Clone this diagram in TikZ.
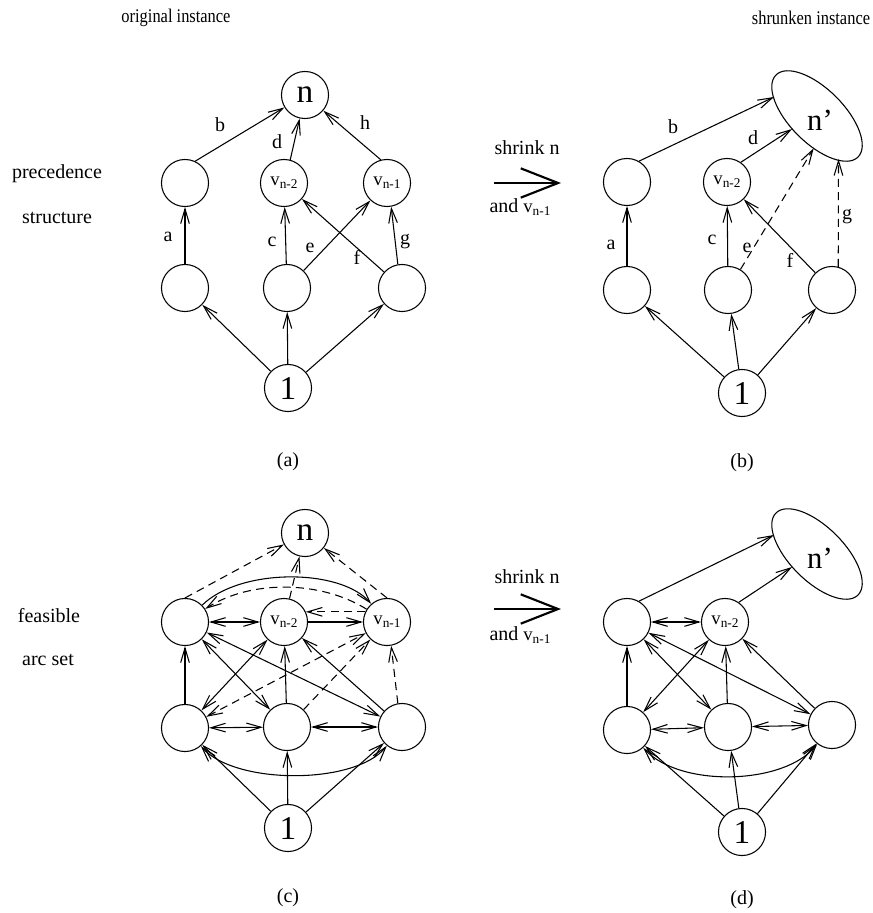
\documentclass[tikz,border=0pt]{standalone}
\usepackage{fontspec}
\setmainfont{Liberation Serif}
\newfontfamily\condfont{Liberation Serif}[FakeStretch=0.85]
\usetikzlibrary{arrows.meta,shapes.geometric}
\newcommand\vlab[1]{{\fontsize{14}{14}\selectfont v}\raisebox{-2.5pt}{\fontsize{10}{10}\selectfont #1}}
\begin{document}
\begin{tikzpicture}[x=0.75pt,y=-0.75pt,
  vert/.style={circle,draw,line width=0.8pt,minimum size=35.3pt,inner sep=0pt,font=\fontsize{25}{25}\selectfont},
  ell/.style={ellipse,draw,line width=0.8pt,minimum width=87pt,minimum height=40.5pt,inner sep=0pt,rotate=-45},
  arr/.style={line width=0.8pt,-{Straight Barb[length=11pt,width=6.5pt]}},
  dbl/.style={line width=0.8pt,{Straight Barb[length=11pt,width=6.5pt]}-{Straight Barb[length=11pt,width=6.5pt]}},
  dsh/.style={dash pattern=on 6pt off 4pt},
  lbl/.style={font=\fontsize{15}{15}\selectfont,inner sep=0pt},
  captxt/.style={font=\fontsize{15}{15}\selectfont,inner sep=0pt},
  txt/.style={font=\fontsize{15}{15}\selectfont,inner sep=0pt},
  ttl/.style={font=\condfont\fontsize{14.5}{14.5}\selectfont,inner sep=0pt},
  big/.style={line width=2.2pt,-{Straight Barb[length=28pt,width=22pt,line width=1.6pt]}}]
\useasboundingbox (0,0) rectangle (872,913);

% titles and side labels
\node[ttl] (t1) at (176,18) {original instance};
\node[ttl] (t2) at (811,18) {shrunken instance};
\node[txt] (s1) at (57,174) {precedence};
\node[txt] (s2) at (57,218) {structure};
\node[txt] (s3) at (49,616) {feasible};
\node[txt] (s4) at (48,660) {arc set};
\node[captxt] (capa) at (288,462) {(a)};
\node[captxt] (capb) at (742,463) {(b)};
\node[captxt] (capc) at (288,898) {(c)};
\node[captxt] (capd) at (742,900) {(d)};

% shrink arrows
\node[txt] (sh1) at (527,148) {shrink n};
\node[txt] (an1) at (520,207) {and \vlab{n-1}};
\coordinate (s1a) at (494,183);
\coordinate (s1b) at (561,183);
\draw[big] (s1a) -- (s1b);
\node[txt] (sh2) at (527,577) {shrink n};
\node[txt] (an2) at (520,635) {and \vlab{n-1}};
\coordinate (s2a) at (494,609);
\coordinate (s2b) at (561,609);
\draw[big] (s2a) -- (s2b);

% ---------- (a) ----------
\node[vert] (an) at (305,95) {n};
\node[vert] (aL2) at (185,183) {};
\node[vert] (aV2) at (284,183) {\vlab{n-2}};
\node[vert] (aV1) at (387,183) {\vlab{n-1}};
\node[vert] (aL1) at (185,288) {};
\node[vert] (aM1) at (287,288) {};
\node[vert] (aR1) at (402,288) {};
\node[vert] (a1) at (288,388) {1};
\draw[arr] (a1) -- (aL1);
\draw[arr] (a1) -- (aM1);
\draw[arr] (a1) -- (aR1);
\draw[arr] (aL1) -- (aL2);
\draw[arr] (aL2.65) -- (an);
\draw[arr] (aV2.75) -- (an);
\draw[arr] (aV1.105) -- (an);
\draw[arr] (aM1) -- (aV2);
\draw[arr] (aM1) -- (aV1);
\draw[arr] (aR1) -- (aV2);
\draw[arr] (aR1.100) -- (aV1.280);
\node[lbl] (la) at (168,237) {a};
\node[lbl] (lb) at (220,125) {b};
\node[lbl] (lc) at (272,242) {c};
\node[lbl] (ld) at (277,142) {d};
\node[lbl] (le) at (310,248) {e};
\node[lbl] (lf) at (357,257) {f};
\node[lbl] (lg) at (405,242) {g};
\node[lbl] (lh) at (365,123) {h};

% ---------- (b) ----------
\node[ell] (bN) at (817,116) {};
\node[font=\fontsize{23}{23}\selectfont,inner sep=0pt] (bNt) at (820,120) {n’};
\node[vert] (bL2) at (627,182) {};
\node[vert] (bV2) at (727,182) {\vlab{n-2}};
\node[vert] (bL1) at (627,290) {};
\node[vert] (bM1) at (728,290) {};
\node[vert] (bR1) at (832,290) {};
\node[vert] (b1) at (742,393) {1};
\coordinate (pb) at (774,97);
\coordinate (pd) at (792,129);
\coordinate (pe) at (813.7,148.3);
\coordinate (pg) at (838.5,159);
\draw[arr] (b1) -- (bL1);
\draw[arr] (b1) -- (bM1);
\draw[arr] (b1) -- (bR1);
\draw[arr] (bL1) -- (bL2);
\draw[arr] (bM1) -- (bV2);
\draw[arr] (bR1) -- (bV2);
\draw[arr] (bL2.60) -- (pb);
\draw[arr] (bV2.55) -- (pd);
\draw[arr,dsh] (bM1) -- (pe);
\draw[arr,dsh] (bR1.75) -- (pg);
\node[lbl] (mla) at (611,245) {a};
\node[lbl] (mlb) at (673,127) {b};
\node[lbl] (mlc) at (712,240) {c};
\node[lbl] (mld) at (753,138) {d};
\node[lbl] (mle) at (747,248) {e};
\node[lbl] (mlf) at (790,260) {f};
\node[lbl] (mlg) at (847,217) {g};

% ---------- (c) ----------
\node[vert] (cn) at (305,533) {n};
\node[vert] (cL2) at (185,622) {};
\node[vert] (cV2) at (284,622) {\vlab{n-2}};
\node[vert] (cV1) at (387,622) {\vlab{n-1}};
\node[vert] (cL1) at (185,728) {};
\node[vert] (cM1) at (287,727) {};
\node[vert] (cR1) at (402,727) {};
\node[vert] (c1) at (288,828) {1};
\draw[arr] (c1) -- (cL1);
\draw[arr] (c1) -- (cM1);
\draw[arr] (c1) -- (cR1);
\draw[dbl] (cL1) .. controls (235,785) and (355,785) .. (cR1);
\draw[arr] (cL1) -- (cL2);
\draw[dbl] (cL1) -- (cM1);
\draw[dbl] (cM1) -- (cR1);
\draw[dbl] (cL2) -- (cV2);
\draw[arr] (cV2) -- (cV1);
\draw[arr,dsh] (cV1.155) -- (cV2.25);
\draw[dbl] (cL2) -- (cR1);
\draw[dbl] (cL2) -- (cM1);
\draw[dbl] (cV2) -- (cL1);
\draw[arr] (cM1) -- (cV2);
\draw[arr] (cR1) -- (cV2);
\draw[arr] (cL2) .. controls (240,568) and (340,568) .. (cV1);
\draw[arr,dsh] (cV1) .. controls (320,580) and (250,580) .. (cL2);
\draw[arr,dsh] (cL2.north) -- (cn);
\draw[arr,dsh] (cV2) -- (cn);
\draw[arr,dsh] (cV1.north) -- (cn);
\draw[dbl,dsh] (cL1) -- (cV1);
\draw[arr,dsh] (cM1) -- (cV1);
\draw[arr,dsh] (cR1.100) -- (cV1.280);

% ---------- (d) ----------
\node[ell] (dN) at (817,554) {};
\node[font=\fontsize{23}{23}\selectfont,inner sep=0pt] (dNt) at (820,558) {n’};
\node[vert] (dL2) at (627,622) {};
\node[vert] (dV2) at (725,622) {\vlab{n-2}};
\node[vert] (dL1) at (627,730) {};
\node[vert] (dM1) at (728,727) {};
\node[vert] (dR1) at (832,725) {};
\node[vert] (d1) at (742,832) {1};
\coordinate (qb) at (774,535);
\coordinate (qd) at (792,567);
\draw[arr] (d1) -- (dL1);
\draw[arr] (d1) -- (dM1);
\draw[arr] (d1) -- (dR1);
\draw[dbl] (dL1) .. controls (680,788) and (785,785) .. (dR1);
\draw[arr] (dL1) -- (dL2);
\draw[dbl] (dL1) -- (dM1);
\draw[dbl] (dM1) -- (dR1);
\draw[dbl] (dL2) -- (dV2);
\draw[dbl] (dL2) -- (dM1);
\draw[dbl] (dV2) -- (dL1);
\draw[dbl] (dL2) -- (dR1);
\draw[arr] (dM1) -- (dV2);
\draw[arr] (dR1) -- (dV2);
\draw[arr] (dL2.60) -- (qb);
\draw[arr] (dV2.55) -- (qd);
\end{tikzpicture}
\end{document}
